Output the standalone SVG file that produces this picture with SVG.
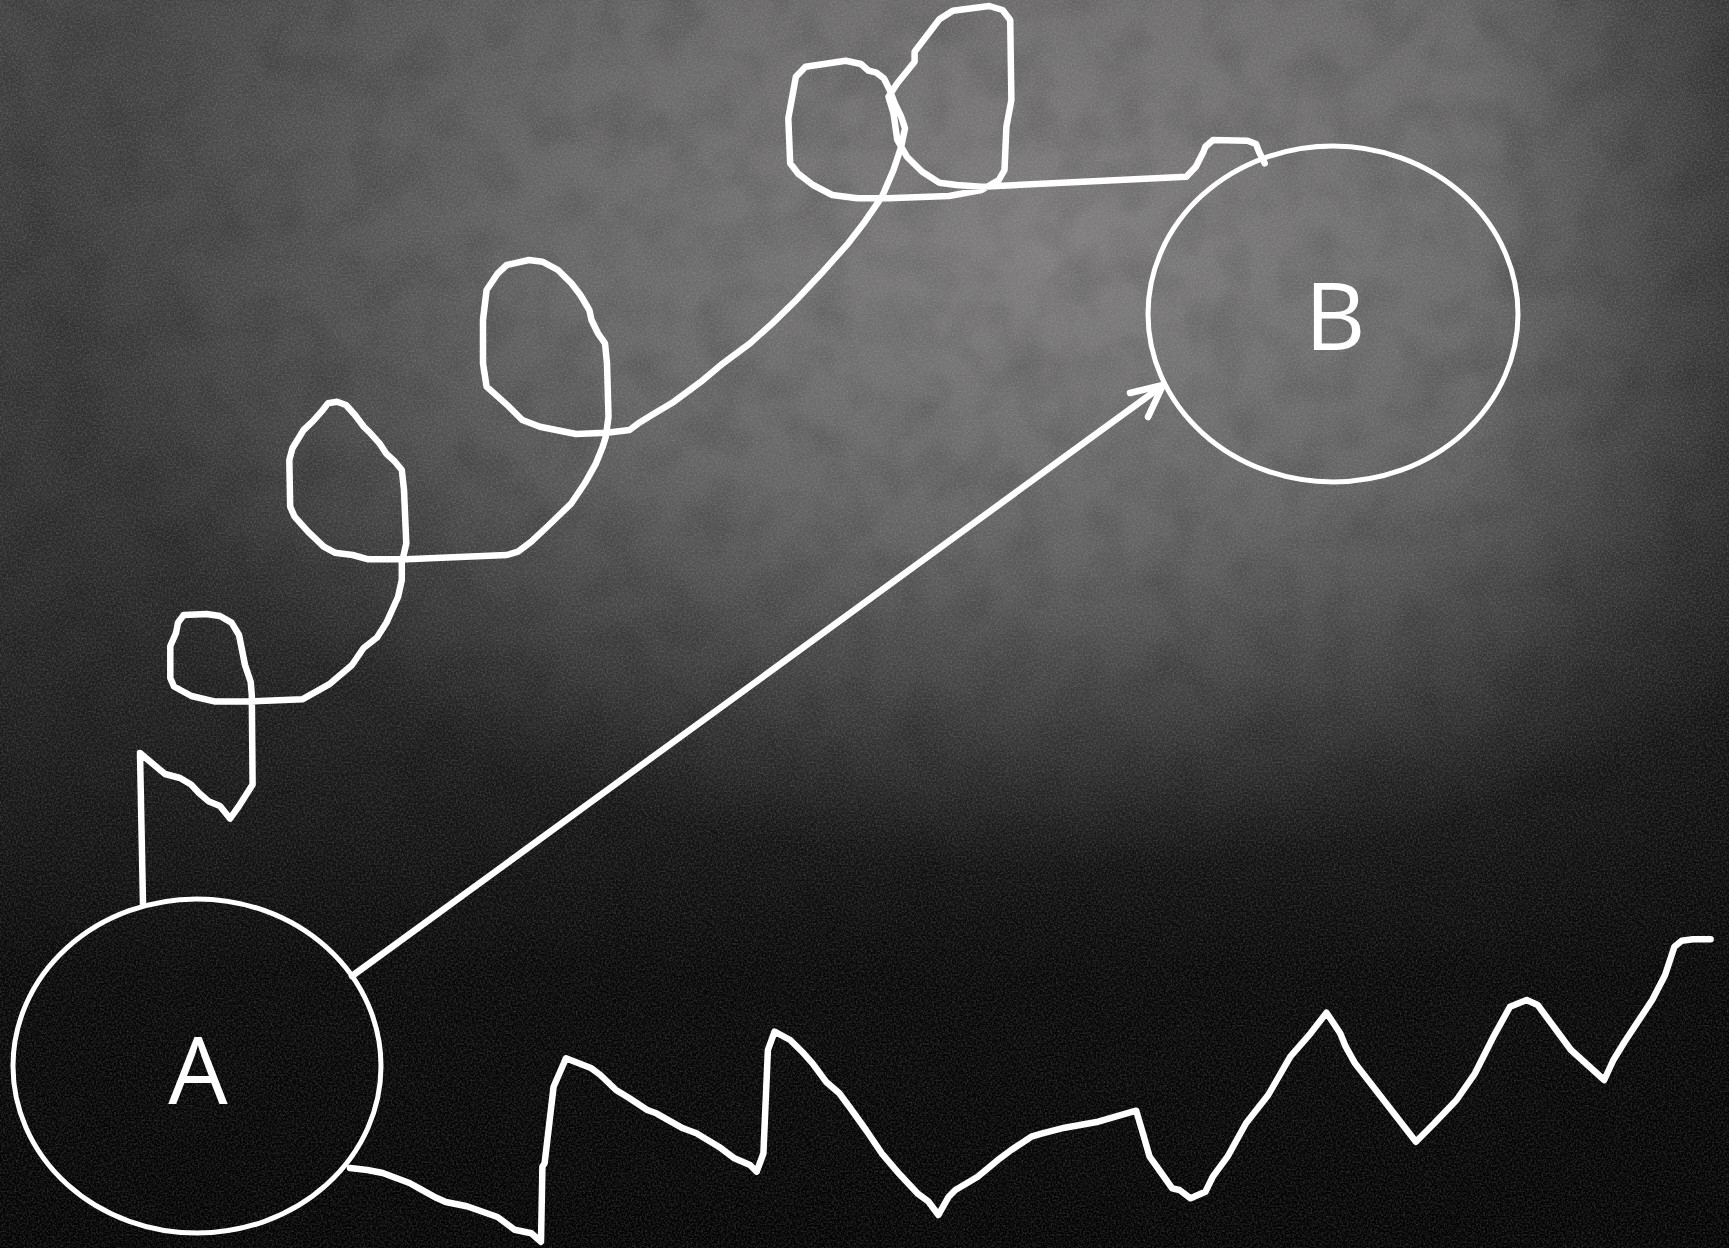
<svg xmlns="http://www.w3.org/2000/svg" width="1729" height="1248" viewBox="0 0 1729 1248">
<defs>
<style>
.node{fill:none;stroke:#ffffff;stroke-width:5}
.lbl{font-family:"Open Sans","Lato",sans-serif;font-size:94px;fill:#ffffff;text-anchor:middle}
.chalk{fill:none;stroke:#ffffff;stroke-width:6.5;stroke-linejoin:round;stroke-linecap:round}
</style>
<linearGradient id="vert" x1="0" y1="0" x2="0" y2="1">
<stop offset="0" stop-color="#444343"/>
<stop offset="0.4" stop-color="#303030"/>
<stop offset="0.62" stop-color="#1a1919"/>
<stop offset="0.78" stop-color="#090808"/>
<stop offset="1" stop-color="#030303"/>
</linearGradient>
<radialGradient id="glow" gradientUnits="userSpaceOnUse" cx="0" cy="0" r="1" gradientTransform="translate(1060 250) scale(1000 620)">
<stop offset="0" stop-color="#8c8a8a" stop-opacity="0.85"/>
<stop offset="0.5" stop-color="#8c8a8a" stop-opacity="0.55"/>
<stop offset="1" stop-color="#8c8a8a" stop-opacity="0"/>
</radialGradient>
<linearGradient id="rightv" x1="0" y1="0" x2="1" y2="0">
<stop offset="0.85" stop-color="#000" stop-opacity="0"/>
<stop offset="1" stop-color="#000" stop-opacity="0.35"/>
</linearGradient>
<filter id="grain" x="0" y="0" width="100%" height="100%">
<feTurbulence type="fractalNoise" baseFrequency="0.55" numOctaves="3" seed="3"/>
<feColorMatrix type="matrix" values="0 0 0 0 0.55  0 0 0 0 0.55  0 0 0 0 0.55  0 0 0 1.1 -0.4"/>
</filter>
<filter id="cloud" x="0" y="0" width="100%" height="100%">
<feTurbulence type="fractalNoise" baseFrequency="0.02" numOctaves="3" seed="7"/>
<feColorMatrix type="matrix" values="0 0 0 0 0  0 0 0 0 0  0 0 0 0 0  0 0 0 1.0 -0.4"/>
</filter>
</defs>
<g id="background">
<rect width="1729" height="1248" fill="url(#vert)"/>
<rect width="1729" height="1248" fill="url(#glow)"/>
<rect width="1729" height="1248" filter="url(#cloud)" opacity="0.25"/>
<rect width="1729" height="1248" fill="url(#rightv)"/>
<rect width="1729" height="1248" filter="url(#grain)" opacity="0.4"/>
</g>
<g id="connectors">
<path id="loopy" class="chalk" d="M143,904 L140,753 L147,759 L165,774 L180,778 L191,784.5 L199,793 L209,801.6 L220,806 L230,818.6 L239,806 L252.6,784.5 L251.8,695 L250.7,682 L245,665 L239,635 L231.5,622.6 L220,616 L206.7,614 L183.7,615 L178,622.6 L176,633 L170.3,646 L170.3,678 L174,686.5 L191.4,696 L214.3,701.4 L250.7,701.4 L302.3,699.3 L329,684.4 L352,665 L363.6,648 L377,637.5 L386.5,622.6 L398,597 L401.8,580 L401.8,563.3 L406.3,543.3 L404,490 L401.8,470 L395,461.7 L386,453.3 L379.5,443.3 L370.5,433.3 L363.8,426.7 L355,415 L346,405 L337,401.7 L328,403.3 L321.4,411.7 L312.5,421.7 L303.6,430 L292.4,448.3 L289.3,460 L290.2,506.7 L294.6,516.7 L308,531.7 L323.7,546.7 L334.8,552.7 L352.7,555 L368.3,559.3 L406.3,559.3 L506.7,555 L518,551.7 L531.3,541.7 L549,525 L571.4,503.3 L584.8,483.3 L596,463.3 L602.7,446.7 L605.8,436.7 L608.5,416.7 L607,363.3 L605,343.3 L598,333.3 L591.5,320 L589.3,310 L580.4,295 L571.4,283.3 L558,270 L542.4,261.7 L529,260 L506.7,265 L497.8,273.3 L486.6,290 L483,320 L483,363.3 L486.6,386.7 L497.8,396.7 L509,406.7 L522.3,420 L540,426.7 L576,434 L607,432.7 L629.5,430 L638.4,423.3 L651.8,415 L674,401.7 L701,381.7 L723,363.3 L750,343.3 L772.3,323.3 L794.6,301.7 L821.4,273.3 L848.2,243.3 L864.8,221.7 L882,196.7 L893.5,170 L901.2,146.7 L905,128.3 L901.2,116.7 L894.7,103.3 L889.7,90 L883.9,78.3 L876.3,72.7 L868.6,70.7 L861,64 L845.7,60.7 L805.5,66.7 L795.9,76.7 L788.3,118.3 L790.2,163.3 L797.8,173.3 L813,185 L832.3,195 L857.2,198.3 L887.8,198.3 L949,196 L981.5,190 L998.8,180 L1004.5,170 L1006.4,126.7 L1011.4,100 L1010.2,20 L1002.6,10 L989.2,6 L952.8,10.7 L939.4,19.3 L914.6,51.7 L914.6,61.7 L897.3,83.3 L888.5,96.7 L893.5,113.3 L897.3,140 L906.9,156.7 L922.2,171.7 L939.4,182.7 L956.7,185 L981.5,186.7 L1186.3,176.7 L1195.8,166.7 L1203.5,151.7 L1205.4,146.7 L1213,140 L1247.5,140.7 L1256,144 L1259,151.7 L1264.7,163.3"/>
<path id="zigzag" class="chalk" d="M350,1168 L367.4,1170 L382.7,1173 L409.5,1183 L421,1189.3 L436.3,1197.8 L445.8,1202 L466.9,1206.3 L497.5,1217 L514.7,1229.8 L531.3,1233.3 L541,1241.7 L542.4,1166.7 L544.6,1163.3 L553.6,1086.7 L566,1058.3 L591.5,1068.3 L600.4,1075 L616,1090 L629.5,1098.3 L647.3,1110 L656.3,1113.3 L683,1128.3 L696.4,1133.3 L718.8,1146.7 L734.4,1158.3 L750,1165 L756.7,1171.7 L763.4,1153.3 L767.9,1050 L774.6,1031.7 L790.2,1040 L803.6,1053.3 L812.5,1063.3 L826,1081.7 L839.3,1093.3 L850.4,1108.3 L866,1130 L881.7,1153.3 L897.3,1171.7 L917.4,1193.3 L928.6,1201.7 L938.4,1215 L948.7,1196.7 L955.4,1190 L977.7,1176.7 L1000,1158.3 L1011.2,1150 L1031.3,1136.7 L1042.4,1133.3 L1064.7,1127.7 L1098.2,1121.7 L1136.2,1110.7 L1142.9,1133.3 L1149.6,1156.7 L1159.2,1170 L1172.2,1188.3 L1179.5,1190 L1190.6,1198.3 L1205.4,1191.7 L1212.8,1176.7 L1227.5,1156.7 L1246,1123.3 L1268.2,1095 L1290.3,1056.7 L1310.6,1033.3 L1326.5,1012.7 L1340.2,1033.3 L1345.7,1046.7 L1355,1063.3 L1415.9,1141.7 L1434.3,1123.3 L1456.5,1100 L1475,1073.3 L1493.4,1036.7 L1510,1006.7 L1526.7,1000 L1537.7,1005 L1556.2,1030 L1571,1050 L1604.2,1080 L1613.4,1060 L1624.6,1041.7 L1652.2,1000 L1665.1,975 L1674.4,946.7 L1681.7,940.7 L1692.8,939.3 L1710.6,939.3"/>
<g id="arrow">
<line class="chalk" x1="352" y1="976" x2="1162" y2="386"/>
<polyline class="chalk" points="1130,393 1163,385 1148,417"/>
</g>
</g>
<g id="node-A">
<ellipse class="node" cx="197" cy="1066" rx="184" ry="167"/>
<text class="lbl" x="198" y="1104">A</text>
</g>
<g id="node-B">
<ellipse class="node" cx="1333" cy="314" rx="185" ry="168"/>
<text class="lbl" x="1335" y="350">B</text>
</g>
</svg>
